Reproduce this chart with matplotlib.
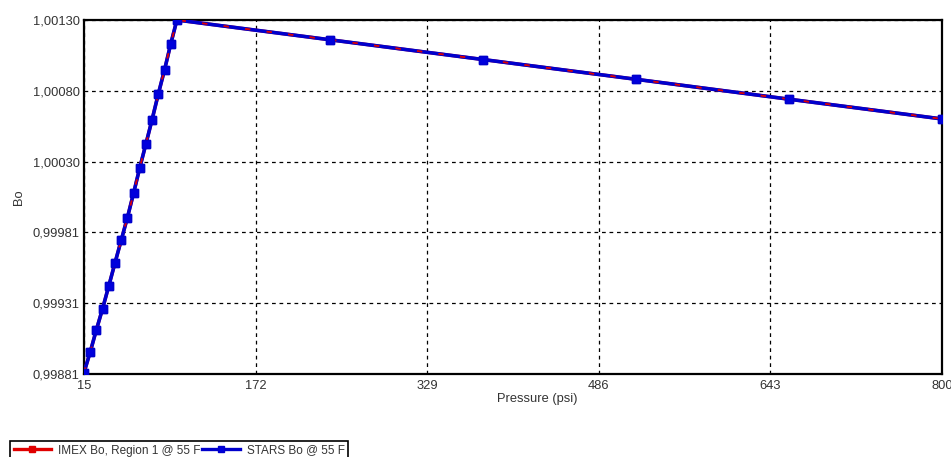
import matplotlib
matplotlib.use("Agg")
import matplotlib.pyplot as plt
from matplotlib.ticker import FixedLocator, FixedFormatter
from matplotlib.lines import Line2D

plt.rcParams['font.family'] = ['Liberation Sans', 'DejaVu Sans']

# Data
pressure = [15, 20.7, 26.3, 32, 37.7, 43.3, 49, 54.7, 60.3, 66, 71.7, 77.3, 83, 88.7, 94.3, 100,
            240, 380, 520, 660, 800]
bo_imex = [0.99882, 0.998965, 0.99912, 0.99927, 0.99943, 0.99959, 0.99975, 0.99991, 1.00008,
           1.00026, 1.00043, 1.00060, 1.00078, 1.00095, 1.00113, 1.00130,
           1.001161, 1.001022, 1.000883, 1.000743, 1.000604]
bo_stars = list(bo_imex)

xticks = [15, 172, 329, 486, 643, 800]
yticks = [0.99881, 0.99931, 0.99981, 1.00030, 1.00080, 1.00130]
ytick_labels = ["0,99881", "0,99931", "0,99981", "1,00030", "1,00080", "1,00130"]

RED = '#e00000'
BLUE = '#0000cc'

fig = plt.figure(figsize=(9.51, 4.57), dpi=100)
ax = fig.add_axes([84/951, 1-374/457, (942-84)/951, (374-20)/457])

ax.plot(pressure, bo_imex, color=RED, lw=2.4, marker='s', ms=5,
        markeredgecolor=RED, markerfacecolor=RED, zorder=3)
ax.plot(pressure, bo_stars, color=BLUE, lw=2.6, marker='s', ms=5.5,
        markeredgecolor=BLUE, markerfacecolor='#0000dd', zorder=4)
# red showing through the blue line
ax.plot(pressure, bo_imex, color=RED, lw=1.3, ls=(0, (3, 9)), zorder=5)
ax.plot(pressure, bo_stars, color=BLUE, lw=0, marker='s', ms=5.5,
        markeredgecolor=BLUE, markerfacecolor='#0000dd', zorder=6)

ax.set_xlim(15, 800)
ax.set_ylim(0.99881, 1.00130)
ax.xaxis.set_major_locator(FixedLocator(xticks))
ax.xaxis.set_major_formatter(FixedFormatter([str(t) for t in xticks]))
ax.yaxis.set_major_locator(FixedLocator(yticks))
ax.yaxis.set_major_formatter(FixedFormatter(ytick_labels))
ax.tick_params(length=0, labelsize=9.3, colors='#333333', pad=4)
ax.tick_params(axis='y', pad=3)

ax.grid(True, color='black', ls=(0, (3, 3)), lw=0.9)
for s in ax.spines.values():
    s.set_color('black')
    s.set_linewidth(1.6)

ax.set_xlabel('Pressure (psi)', fontsize=9.3, color='#333333')
ax.xaxis.set_label_coords(0.528, -0.054)
ax.set_ylabel('Bo', fontsize=9.3, color='#333333')
ax.yaxis.set_label_coords(-0.069, 0.5)

handles = [
    Line2D([], [], color=RED, lw=2.4, marker='s', ms=5, markerfacecolor=RED, markeredgecolor=RED),
    Line2D([], [], color=BLUE, lw=2.4, marker='s', ms=5, markerfacecolor='#0000dd', markeredgecolor=BLUE),
]
labels = ['IMEX Bo, Region 1 @ 55 F', 'STARS Bo @ 55 F']
leg = fig.legend(handles, labels, loc='upper left', bbox_to_anchor=(10/951, 1-441/457), ncol=2,
                 fancybox=False, edgecolor='black', framealpha=1, fontsize=8.5,
                 handlelength=3.2, columnspacing=0.1, handletextpad=0.6,
                 borderpad=0.3, borderaxespad=0)
leg.get_frame().set_linewidth(1.2)
for t in leg.get_texts():
    t.set_color('#333333')

fig.savefig('out.png', dpi=100)
